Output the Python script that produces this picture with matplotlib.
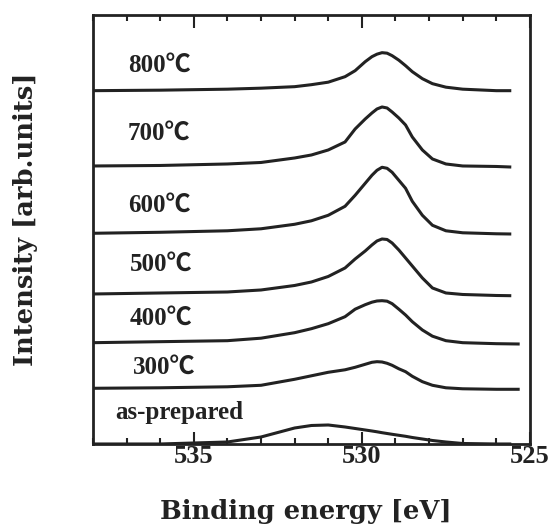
import matplotlib
matplotlib.use("Agg")
import matplotlib.pyplot as plt
from matplotlib.ticker import MultipleLocator

# binding energy grid (eV), last point is per-curve end
energy = [538, 536, 534, 533, 532, 531.5, 531, 530.5, 530.2, 529.9, 529.7,
          529.55, 529.4, 529.25, 529.1, 528.9, 528.7, 528.5, 528.2, 527.9,
          527.5, 527, 526]

labels = ["as-prepared", "300℃", "400℃", "500℃", "600℃", "700℃", "800℃"]
end_ev = [525.6, 525.35, 525.35, 525.6, 525.6, 525.6, 525.6]
offsets = [0, 55.7, 101.3, 150, 210.7, 278, 353.3]

as_prep = [0, 0, 2, 7, 16, 18.5, 19, 17, 15.5, 14, 13, 12.2, 11.3, 10.5, 9.7,
           8.7, 7.7, 6.5, 5, 3.5, 2, 0.5, 0, 0]
t300 = [0, 0.5, 1.5, 3, 9, 12.5, 16, 18.5, 21, 24, 26, 26.6, 26.3, 25, 23,
        19.5, 16.6, 12, 6.6, 3, 0.5, -0.5, -1, -1]
t400 = [0, 1, 2, 4.5, 10, 14, 19, 26, 33.5, 38, 40.5, 41.7, 42, 41.5, 39,
        33.5, 27.7, 21, 12.7, 6.5, 2, 0, -1, -1.3]
t500 = [0, 1, 2, 4, 8.5, 12, 17.5, 26, 35, 43, 49, 53, 55, 54.5, 51,
        44, 36, 28, 16, 6, 1, -0.5, -1.5, -1.7]
t600 = [0, 1, 2.5, 4.5, 9, 12.5, 18, 27, 38, 50, 58, 63, 66, 65, 61,
        53, 45, 32, 18, 8, 2.5, 0.5, -0.5, -0.7]
t700 = [0, 0.5, 2, 3.5, 8, 11, 16, 24, 37, 47, 53, 57, 59, 58, 54,
        48, 41, 29, 16, 7, 2, 0, -0.5, -1]
t800 = [0, 0.5, 1.5, 2.5, 4, 6, 8.5, 14, 20, 29, 34, 36.5, 38, 37.5, 35,
        30.5, 25, 19, 12, 7, 3.5, 1.5, 0, 0]
curves = [as_prep, t300, t400, t500, t600, t700, t800]

label_x = [537.35, 536.8, 536.9, 536.9, 536.96, 536.96, 536.96]
label_y = [31, 77, 126, 180, 239, 311, 379]

serif = ["Liberation Serif", "Noto Sans CJK JP"]
ink = "#222222"

fig = plt.figure(figsize=(5.5, 5.29), dpi=100)
ax = fig.add_axes([0.169, 0.1607, 0.7945, 0.811])

for i in range(len(curves)):
    xs = energy + [end_ev[i]]
    ys = [offsets[i] + v for v in curves[i]]
    ax.plot(xs, ys, color=ink, lw=2.2, solid_joinstyle="round")
    ax.text(label_x[i], label_y[i], labels[i], family=serif, weight="bold",
            fontsize=18, va="center", ha="left", color=ink)

ax.set_xlim(538, 525)
ax.set_ylim(0, 429)
ax.xaxis.set_major_locator(MultipleLocator(5))
ax.xaxis.set_minor_locator(MultipleLocator(1))
ax.tick_params(axis="x", which="both", direction="in", top=True, width=1.5,
               colors=ink, pad=1)
ax.tick_params(axis="x", which="major", length=9)
ax.tick_params(axis="x", which="minor", length=4)
ax.set_yticks([])
for t in ax.get_xticklabels():
    t.set_family(serif)
    t.set_weight("bold")
    t.set_fontsize(19)
for s in ax.spines.values():
    s.set_linewidth(2)
    s.set_color(ink)

ax.set_xlabel("Binding energy [eV]", family="DejaVu Serif", weight="bold",
              fontsize=18.5, color=ink, va="baseline")
ax.xaxis.set_label_coords(0.4874, -0.1755)
ax.set_ylabel("Intensity [arb.units]", family="DejaVu Serif", weight="bold",
              fontsize=18.5, color=ink, va="center")
ax.yaxis.set_label_coords(-0.154, 0.524)

fig.savefig("out.png", dpi=100)
